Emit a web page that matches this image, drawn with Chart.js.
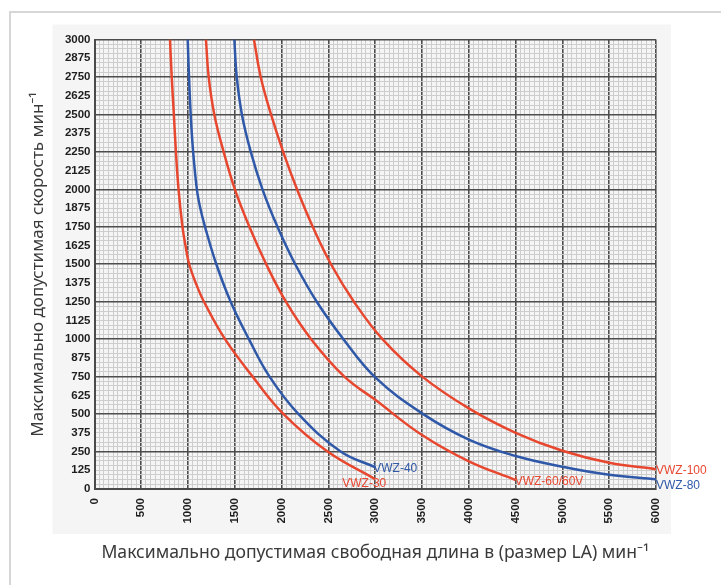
<!DOCTYPE html>
<html>

<head>
    <title>VWZ max speed chart</title>
    <meta charset="utf-8">
    <script src="https://cdn.jsdelivr.net/npm/chart.js"></script>
    <style type="text/css">
        body {
            margin: 0;
            background: #fff;
        }

        .frame {
            position: absolute;
            left: 9px;
            top: 11px;
            right: 0;
            bottom: 0;
            border-left: 2px solid #d6d6d6;
            border-top: 2px solid #d6d6d6;
        }

        .chart-container {
            position: absolute;
            left: 0;
            top: 0;
            width: 721px;
            height: 585px;
        }
    </style>
</head>

<body>
    <div class="frame"></div>
    <div class="chart-container">
        <canvas id="myChart"></canvas>
    </div>

    <script>
        // curves: x = free length LA, y = speed
        const seriesNames = ['VWZ-30', 'VWZ-40', 'VWZ-60/60V', 'VWZ-80', 'VWZ-100'];

        const vwz30X = [807, 825, 848, 870, 898, 940, 972, 1012, 1082, 1170, 1395, 1690, 2020, 2490, 3000];
        const vwz30Y = [3000, 2750, 2500, 2250, 2000, 1750, 1625, 1500, 1375, 1250, 1000, 750, 500, 250, 65];

        const vwz40X = [996, 1010, 1028, 1054, 1094, 1130, 1181, 1302, 1455, 1650, 1870, 2180, 2630, 3000];
        const vwz40Y = [3000, 2750, 2500, 2250, 2000, 1875, 1750, 1500, 1250, 1000, 750, 500, 250, 145];

        const vwz60X = [1191, 1220, 1280, 1380, 1500, 1655, 1835, 2045, 2315, 2670, 3000, 3500, 4000, 4500];
        const vwz60Y = [3000, 2750, 2500, 2250, 2000, 1750, 1500, 1250, 1000, 750, 595, 360, 185, 60];

        const vwz80X = [1494, 1520, 1575, 1670, 1795, 1955, 2145, 2375, 2660, 3000, 3500, 4000, 4500, 5000, 5500, 6000];
        const vwz80Y = [3000, 2750, 2500, 2250, 2000, 1750, 1500, 1250, 1000, 745, 505, 330, 220, 149, 95, 65];

        const vwz100X = [1704, 1776, 1886, 2016, 2164, 2332, 2527, 2772, 3077, 3492, 4000, 4500, 5000, 5500, 6000];
        const vwz100Y = [3000, 2750, 2500, 2250, 2000, 1750, 1500, 1250, 1000, 755, 538, 375, 255, 175, 132];

        const xMin = 0, xMax = 6000, xStep = 50, xLabelStep = 500;
        const yMin = 0, yMax = 3000, yStep = 31.25, yLabelStep = 125, yMajorStep = 250;

        const RED = '#e8472f';
        const BLUE = '#2f58a8';

        function pts(xs, ys) {
            return xs.map((x, i) => ({ x: x, y: ys[i] }));
        }

        function line(name, xs, ys, color) {
            return {
                label: name,
                data: pts(xs, ys),
                borderColor: color,
                backgroundColor: color,
                borderWidth: 2.5,
                pointRadius: 0,
                fill: false,
                tension: 0.4
            };
        }

        // grey card behind the plot, and curve names at the curve ends
        const endLabels = {
            id: 'endLabels',
            beforeDraw(chart) {
                const a = chart.chartArea;
                const c = chart.ctx;
                c.save();
                c.fillStyle = '#f5f5f5';
                c.fillRect(a.left - 42, a.top - 15, a.right - a.left + 57, a.bottom - a.top + 60);
                c.restore();
            },
            afterDatasetsDraw(chart) {
                const c = chart.ctx;
                const offs = [[-33, 4], [-2, 1], [-1, 2], [0, 6], [0, 1]];
                c.save();
                c.font = '12px "Liberation Sans Narrow", "Liberation Sans", Arial';
                c.textAlign = 'left';
                c.textBaseline = 'middle';
                chart.data.datasets.forEach((ds, i) => {
                    const last = ds.data[ds.data.length - 1];
                    const px = chart.scales.x.getPixelForValue(last.x);
                    const py = chart.scales.y.getPixelForValue(last.y);
                    c.fillStyle = ds.borderColor;
                    c.fillText(ds.label, px + offs[i][0], py + offs[i][1]);
                });
                c.restore();
            }
        };

        const tickFont = { family: '"Liberation Sans", Arial', size: 11.5, weight: 'bold' };

        var ctx = document.getElementById('myChart').getContext('2d');
        var myChart = new Chart(ctx, {
            type: 'line',
            data: {
                datasets: [
                    line(seriesNames[0], vwz30X, vwz30Y, RED),
                    line(seriesNames[1], vwz40X, vwz40Y, BLUE),
                    line(seriesNames[2], vwz60X, vwz60Y, RED),
                    line(seriesNames[3], vwz80X, vwz80Y, BLUE),
                    line(seriesNames[4], vwz100X, vwz100Y, RED)
                ]
            },
            options: {
                responsive: true,
                maintainAspectRatio: false,
                animation: false,
                layout: { padding: { left: 0, right: 65, top: 39.5, bottom: 0 } },
                plugins: {
                    legend: { display: false },
                    tooltip: { enabled: false }
                },
                scales: {
                    x: {
                        type: 'linear',
                        min: xMin,
                        max: xMax,
                        afterFit(scale) { scale.height = 96; },
                        border: { display: true, color: '#4a4a4a', width: 2 },
                        grid: {
                            drawTicks: false,
                            color: (c) => c.tick && c.tick.value % xLabelStep === 0 ? '#4d4d4d' : '#cdcdcd',
                            lineWidth: (c) => c.tick && c.tick.value % xLabelStep === 0 ? 1.6 : 1
                        },
                        ticks: {
                            stepSize: xStep,
                            autoSkip: false,
                            minRotation: 90,
                            maxRotation: 90,
                            padding: 9,
                            color: '#1e1e1e',
                            font: tickFont,
                            callback: (v) => v % xLabelStep === 0 ? String(v) : ''
                        },
                        title: {
                            display: true,
                            text: 'Максимально допустимая свободная длина в (размер LA) мин⁻¹',
                            color: '#3a3a3a',
                            font: { family: '"Noto Sans", "Open Sans", sans-serif', size: 17.6 },
                            padding: { top: 0, bottom: 21 }
                        }
                    },
                    y: {
                        type: 'linear',
                        min: yMin,
                        max: yMax,
                        afterFit(scale) { scale.width = 94.5; },
                        border: { display: true, color: '#4a4a4a', width: 2 },
                        grid: {
                            drawTicks: false,
                            color: (c) => c.tick && c.tick.value % yMajorStep === 0 ? '#4d4d4d' : '#cdcdcd',
                            lineWidth: (c) => c.tick && c.tick.value % yMajorStep === 0 ? 1.6 : 1
                        },
                        ticks: {
                            stepSize: yStep,
                            autoSkip: false,
                            padding: 4,
                            color: '#1e1e1e',
                            font: tickFont,
                            callback: (v) => v % yLabelStep === 0 ? String(v) : ''
                        },
                        title: {
                            display: true,
                            text: 'Максимально допустимая скорость мин⁻¹',
                            color: '#3a3a3a',
                            font: { family: '"Noto Sans", "Open Sans", sans-serif', size: 17 },
                            padding: { top: 28, bottom: 0 }
                        }
                    }
                }
            },
            plugins: [endLabels]
        });
    </script>
</body>

</html>
